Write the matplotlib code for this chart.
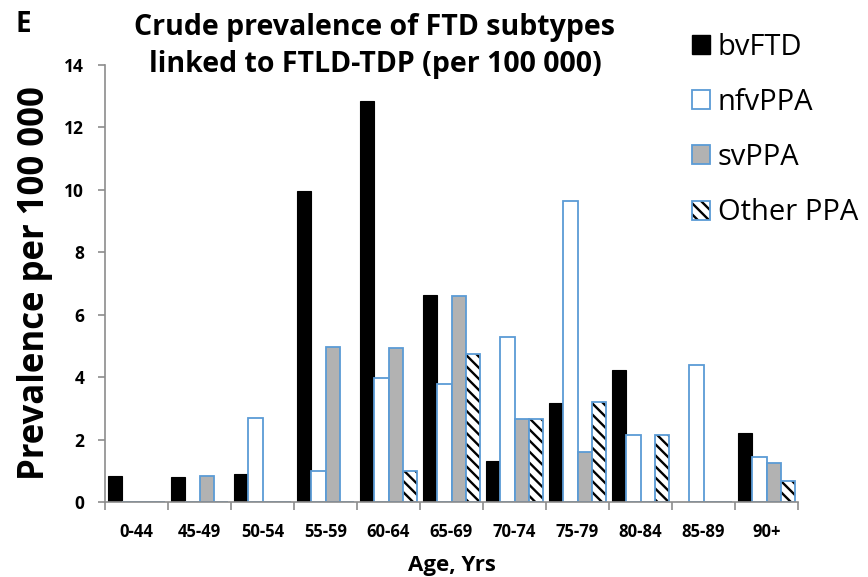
import matplotlib
matplotlib.use("Agg")
import matplotlib.pyplot as plt
import numpy as np
from matplotlib.patches import Patch

plt.rcParams['font.family'] = ['Open Sans', 'DejaVu Sans']
plt.rcParams['hatch.linewidth'] = 1.7

categories = ["0-44", "45-49", "50-54", "55-59", "60-64", "65-69",
              "70-74", "75-79", "80-84", "85-89", "90+"]
bvFTD = [0.84, 0.80, 0.89, 9.97, 12.85, 6.62, 1.31, 3.18, 4.23, 0.0, 2.22]
nfvPPA = [0.0, 0.0, 2.68, 0.99, 3.98, 3.78, 5.30, 9.64, 2.14, 4.38, 1.45]
svPPA = [0.0, 0.83, 0.0, 4.98, 4.93, 6.60, 2.66, 1.59, 0.0, 0.0, 1.26]
otherPPA = [0.0, 0.0, 0.0, 0.0, 0.99, 4.73, 2.66, 3.20, 2.14, 0.0, 0.67]
series_names = ["bvFTD", "nfvPPA", "svPPA", "Other PPA"]
yticks = [0, 2, 4, 6, 8, 10, 12, 14]

BLUE = '#5B9BD5'
GRAY = '#B2B2B2'
AX_GRAY = '#8C8C8C'

fig = plt.figure(figsize=(8.68, 5.77), dpi=100)
ax = fig.add_axes([105/868, 1-502/577, 693/868, 437/577])

x = np.arange(len(categories))
w = 0.23
offs = np.array([-1.5, -0.5, 0.5, 1.5]) * w

ax.bar(x + offs[0], bvFTD, w, color='black', edgecolor='black', linewidth=0.8)
ax.bar(x + offs[1], nfvPPA, w, color='white', edgecolor=BLUE, linewidth=1.3)
ax.bar(x + offs[2], svPPA, w, color=GRAY, edgecolor=BLUE, linewidth=1.3)
ax.bar(x + offs[3], otherPPA, w, color='white', edgecolor='black', linewidth=0, hatch='\\\\\\')
ax.bar(x + offs[3], otherPPA, w, color='none', edgecolor=BLUE, linewidth=1.3)

ax.set_xlim(-0.5, len(categories) - 0.5)
ax.set_ylim(0, 14)

for s in ['top', 'right']:
    ax.spines[s].set_visible(False)
for s in ['left', 'bottom']:
    ax.spines[s].set_color(AX_GRAY)
    ax.spines[s].set_linewidth(1.2)

ax.set_yticks(yticks)
ax.set_yticklabels([str(t) for t in yticks], fontsize=12.5, fontweight='bold')
ax.tick_params(axis='y', length=5, color=AX_GRAY, width=1.2, pad=10)

ax.set_xticks(x)
ax.set_xticklabels(categories, fontsize=12, fontweight='bold')
ax.tick_params(axis='x', which='major', length=0, pad=15)
ax.set_xticks(np.arange(len(categories) + 1) - 0.5, minor=True)
ax.tick_params(axis='x', which='minor', length=6, color=AX_GRAY, width=1.2)

ax.set_xlabel("Age, Yrs", fontsize=16, fontweight='bold', labelpad=10)
ax.set_ylabel("Prevalence per 100 000", fontsize=25, fontweight='bold', labelpad=8)

fig.text(375/868, 1-35/577, "Crude prevalence of FTD subtypes",
         ha='center', va='baseline', fontsize=20.5, fontweight='bold')
fig.text(375/868, 1-72/577, "linked to FTLD-TDP (per 100 000)",
         ha='center', va='baseline', fontsize=20.5, fontweight='bold')
fig.text(16/868, 1-24/577, "E", ha='left', va='center', fontsize=20, fontweight='bold')

handles = [
    Patch(facecolor='black', edgecolor='black'),
    Patch(facecolor='white', edgecolor=BLUE, linewidth=1.3),
    Patch(facecolor=GRAY, edgecolor=BLUE, linewidth=1.3),
    (Patch(facecolor='white', edgecolor='black', linewidth=0, hatch='\\\\\\'),
     Patch(facecolor='none', edgecolor=BLUE, linewidth=1.3)),
]
leg = fig.legend(handles, series_names, loc='upper left',
                 bbox_to_anchor=(680/868, 1-21/577), frameon=False,
                 fontsize=21, handlelength=0.62, handleheight=0.62,
                 handletextpad=0.27, labelspacing=0.9, borderaxespad=0)

fig.savefig("out.png", dpi=100)
